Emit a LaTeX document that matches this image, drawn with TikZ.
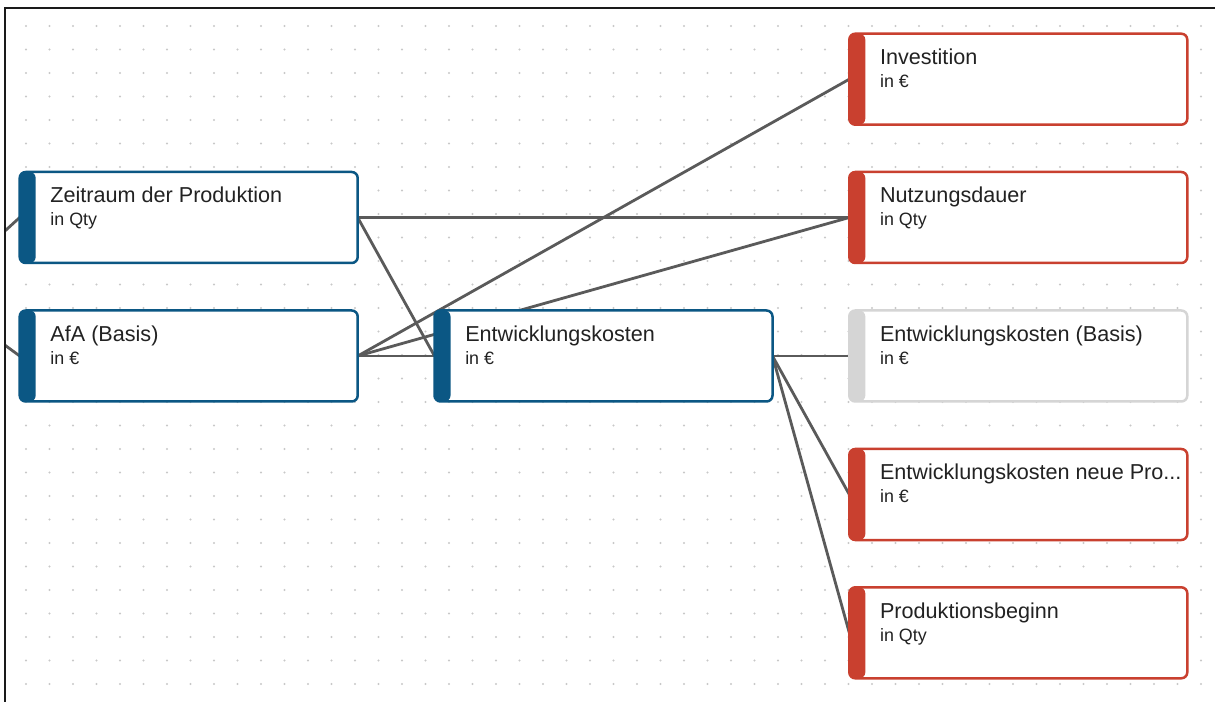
\documentclass[tikz,border=0pt]{standalone}
\usepackage{fontspec}
\setmainfont{Liberation Sans}
\usetikzlibrary{backgrounds,calc}
\newdimen\px \px=0.75pt
\definecolor{nblue}{HTML}{0B5784}
\definecolor{nred}{HTML}{C9402F}
\definecolor{ngray}{HTML}{D5D5D5}
\definecolor{wirec}{HTML}{5A5A5A}
\definecolor{ink}{HTML}{222222}
\definecolor{dotc}{HTML}{C8C8C8}
\definecolor{framec}{HTML}{1A1A1A}
\tikzset{
  card/.style={draw=#1, fill=white, line width=2.5\px, rounded corners=6\px,
    minimum width=338\px, minimum height=91\px, inner sep=0pt, outer sep=0pt,
    path picture={\fill[#1] (path picture bounding box.south west) rectangle ([xshift=16\px]path picture bounding box.north west);}},
  ttl/.style={anchor=base west, inner sep=0pt, text=ink, font=\fontsize{16.2}{18}\selectfont},
  sub/.style={anchor=base west, inner sep=0pt, text=ink, font=\fontsize{13.4}{15}\selectfont},
  wire/.style={draw=wirec, line width=2.8\px},
}
\newcommand\card[6]{%
  \node[card=#4] (#1) at (#2,#3) {};
  \node[ttl] (#1-t) at ($(#1.north west)+(30.5,30.7)$) {#5};
  \node[sub] (#1-s) at ($(#1.north west)+(30.5,53.7)$) {#6};
}
\begin{document}
\begin{tikzpicture}[x=0.75pt,y=-0.75pt]
\useasboundingbox (0,0) rectangle (1215,702);
% cards
\card{zeit}{188.7}{217.5}{nblue}{Zeitraum der Produktion}{in Qty}
\card{afa}{188.7}{356}{nblue}{AfA (Basis)}{in €}
\card{entw}{603.5}{356}{nblue}{Entwicklungskosten}{in €}
\card{inv}{1018.3}{79.2}{nred}{Investition}{in €}
\card{nutz}{1018.3}{217.5}{nred}{Nutzungsdauer}{in Qty}
\card{basis}{1018.3}{356}{ngray}{Entwicklungskosten (Basis)}{in €}
\card{neue}{1018.3}{494.5}{nred}{Entwicklungskosten neue Pro...}{in €}
\card{prod}{1018.3}{632.8}{nred}{Produktionsbeginn}{in Qty}
\coordinate (inA) at (0,235.5);
\coordinate (inB) at (0,341.5);
\begin{scope}[on background layer]
  \fill[white] (0,0) rectangle (1215,702);
  \begin{scope}
    \clip (5.5,9.3) rectangle (1215,702);
    \foreach \i in {0,...,50} {
      \foreach \j in {0,...,28} {
        \fill[dotc] (26+23.5*\i, 26+23.5*\j) circle (1.1\px);
      }
    }
    \draw[wire] (inA) -- (zeit.west);
    \draw[wire] (inB) -- (afa.west);
    \draw[wire] (zeit.east) -- (nutz.west);
    \draw[wire] (zeit.east) -- (entw.west);
    \draw[wire] (afa.east) -- (inv.west);
    \draw[wire] (afa.east) -- (nutz.west);
    \draw[wire] (afa.east) -- (entw.west);
    \draw[wire] (entw.east) -- (basis.west);
    \draw[wire] (entw.east) -- (neue.west);
    \draw[wire] (entw.east) -- (prod.west);
  \end{scope}
  \draw[framec, line width=2\px] (4.7,702) -- (4.7,8.3) -- (1215,8.3);
\end{scope}
\end{tikzpicture}
\end{document}
